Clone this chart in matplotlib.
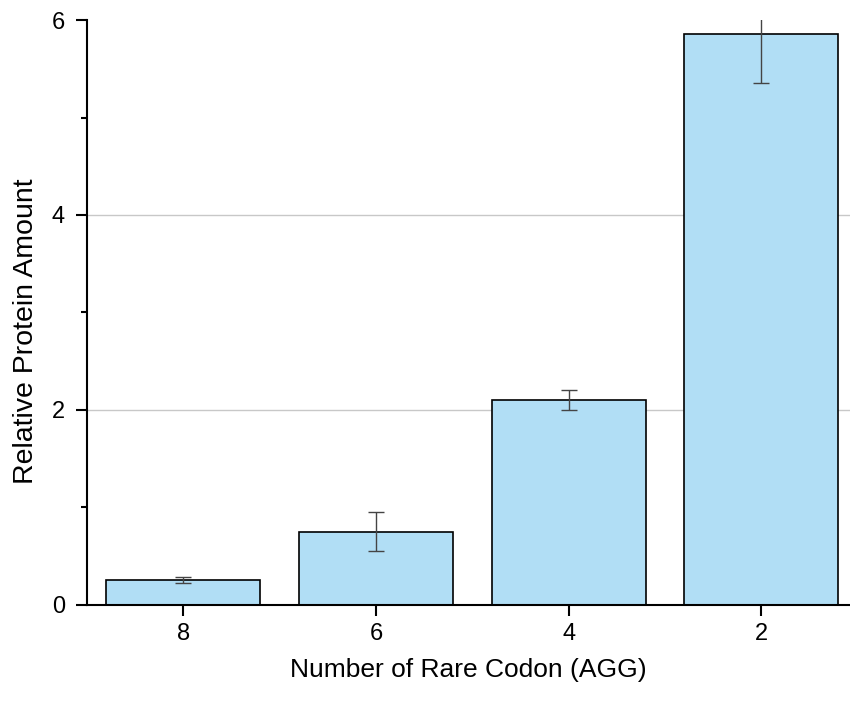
import numpy as np
import matplotlib.pyplot as plt

plt.rcParams['font.family'] = ['Liberation Sans', 'DejaVu Sans']

codons = ['8', '6', '4', '2']
amount = [0.256, 0.75, 2.10, 5.86]
err = [0.03, 0.20, 0.10, 0.51]

x = np.arange(len(codons))

fig = plt.figure(figsize=(8.5, 7.02), dpi=100)
ax = fig.add_axes([0.1024, 0.1382, 0.8976, 0.8333])

ax.bar(x, amount, width=0.8, color='#b1def5', edgecolor='black', linewidth=1.2, zorder=2)
ax.errorbar(x, amount, yerr=err, fmt='none', ecolor='#444444', elinewidth=1.0,
            capsize=6, capthick=1.0, zorder=3)

ax.set_xlim(-0.5, 3.46)
ax.set_ylim(0, 6)
ax.set_xticks(x)
ax.set_xticklabels(codons)
ax.set_yticks([0, 2, 4, 6])
ax.set_yticks([1, 3, 5], minor=True)
ax.yaxis.grid(True, color='#c8c8c8', linewidth=1.0, zorder=0)
ax.set_axisbelow(True)
# no grid line at 0 and at the top value
ax.get_ygridlines()[-1].set_visible(False)
ax.get_ygridlines()[0].set_visible(False)

for s in ['top', 'right']:
    ax.spines[s].set_visible(False)
for s in ['left', 'bottom']:
    ax.spines[s].set_linewidth(1.5)

ax.tick_params(axis='both', which='major', length=8, width=1.5, labelsize=17, direction='out')
ax.tick_params(axis='y', which='minor', length=4.5, width=1.5)
ax.tick_params(axis='x', pad=5)
ax.tick_params(axis='y', pad=8)

ax.set_xlabel('Number of Rare Codon (AGG)', fontsize=19, labelpad=9)
ax.set_ylabel('Relative Protein Amount', fontsize=20.5)
ax.yaxis.set_label_coords(-0.063, 0.468)

fig.savefig('out.png', dpi=100)
